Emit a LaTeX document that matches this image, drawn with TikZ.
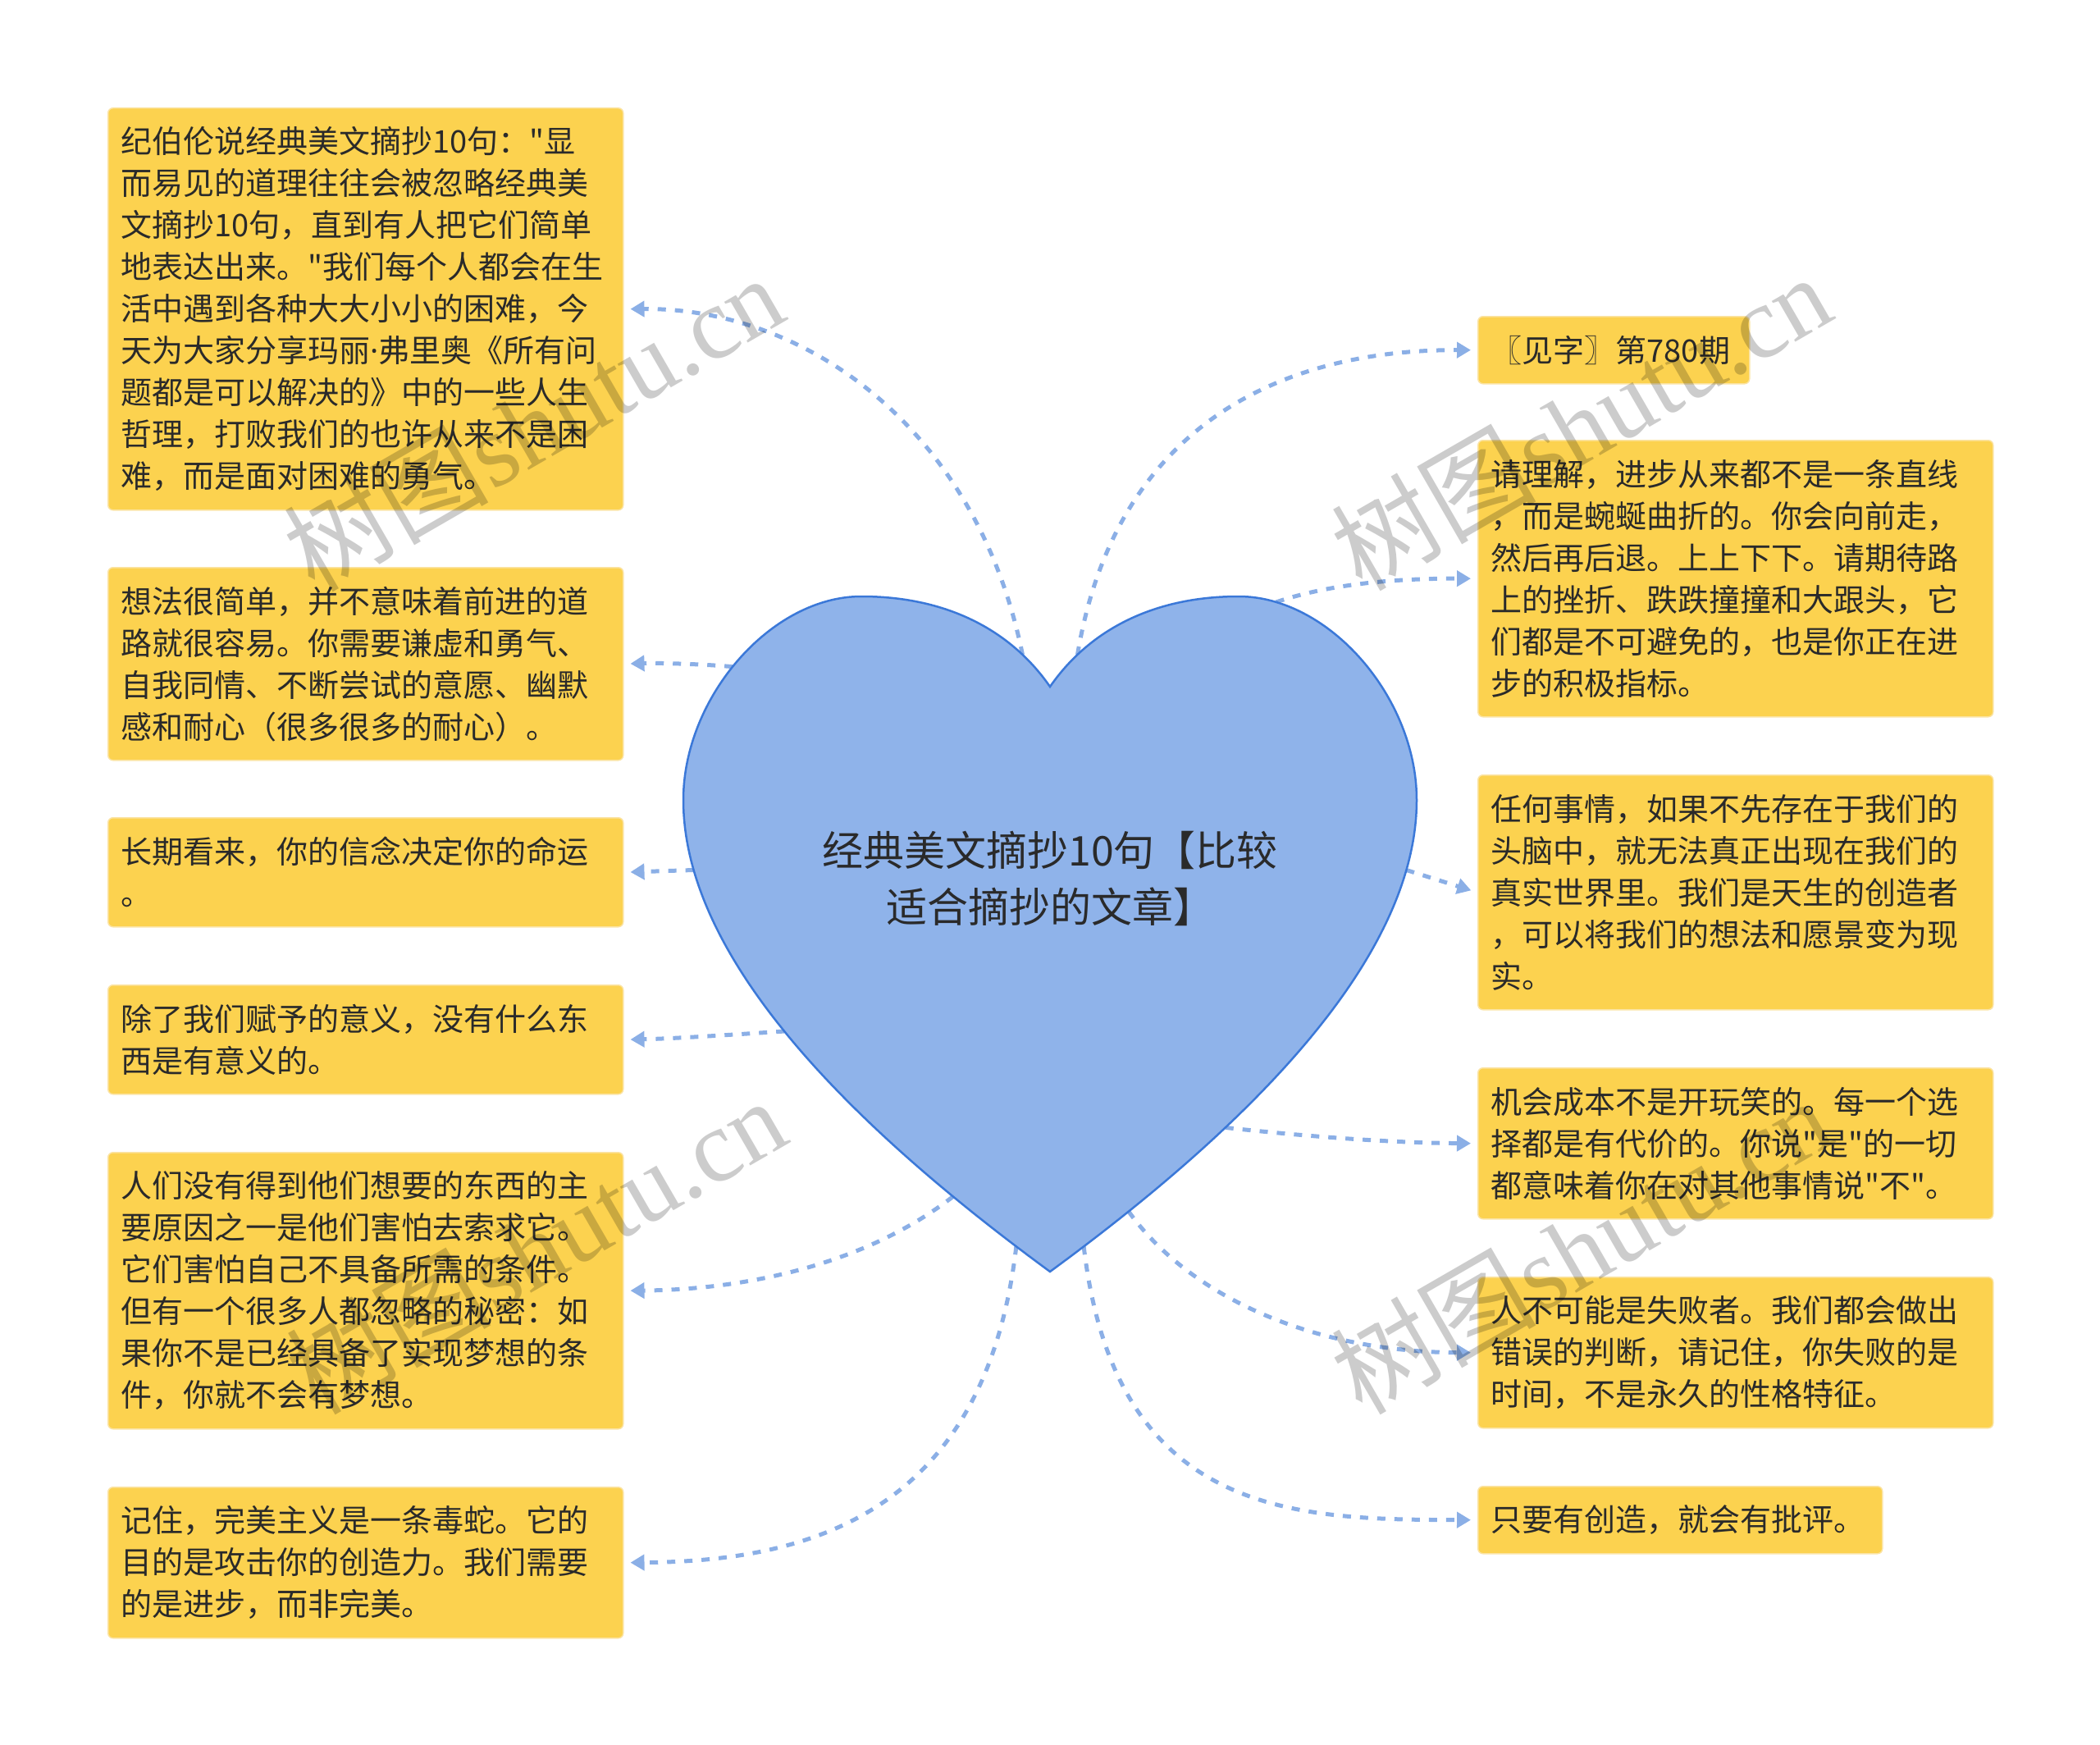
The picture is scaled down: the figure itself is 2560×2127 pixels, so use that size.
\documentclass[tikz,border=0pt]{standalone}
\usepackage{fontspec}
\newfontfamily\cjkfont{Noto Sans CJK SC}
\newfontfamily\latinfont{Noto Sans}
\newfontfamily\wmserif{Liberation Serif}
\usetikzlibrary{arrows.meta}
\definecolor{boxfill}{HTML}{FCD24F}
\definecolor{boxrim}{HTML}{FBE3A2}
\definecolor{heartfill}{HTML}{8FB3EA}
\definecolor{heartline}{HTML}{3B78D8}
\definecolor{linkcol}{HTML}{8BAFE6}
\definecolor{txt}{HTML}{2A2A2A}
\pgfdeclarelayer{bg}
\pgfsetlayers{bg,main}
\tikzset{
  box/.style={rectangle, rounded corners=6pt, fill=boxfill, draw=boxrim, line width=1.5pt,
    inner xsep=16pt, inner ysep=0pt, align=left, text=txt,
    font=\cjkfont\fontsize{38}{51}\selectfont, anchor=north west},
  wide/.style={text width=596pt},
  link/.style={draw=linkcol, line width=5pt, dash pattern=on 10pt off 11pt,
    -{Triangle[length=17pt,width=19pt]}, shorten >=8pt},
  heartshape/.style={fill=heartfill, draw=heartline, line width=2.5pt},
  title/.style={font=\cjkfont\fontsize{50}{69}\selectfont, align=center, text=txt},
  wm/.style={text=black, text opacity=0.2, rotate=30, font=\cjkfont\fontsize{125}{125}\selectfont}
}
\begin{document}
\begin{tikzpicture}[x=1pt,y=-1pt]
\useasboundingbox (0,0) rectangle (2560,2127);

% heart with attachment points
\path[heartshape] (1280,837)
  .. controls (1230,765) and (1150,727) .. (1050,727) coordinate[pos=0.2] (hL1)
  .. controls (940,727) and (833,850) .. (833,975) coordinate[pos=0.53] (hL2)
  .. controls (833,1150) and (1000,1345) .. (1280,1550)
     coordinate[pos=0.16] (hL3) coordinate[pos=0.51] (hL4)
     coordinate[pos=0.85] (hL5) coordinate[pos=0.95] (hL6)
  .. controls (1560,1345) and (1727,1150) .. (1727,975)
     coordinate[pos=0.05] (hR6) coordinate[pos=0.12] (hR5)
     coordinate[pos=0.29] (hR4) coordinate[pos=0.84] (hR3)
  .. controls (1727,850) and (1620,727) .. (1510,727) coordinate[pos=0.86] (hR2)
  .. controls (1410,727) and (1330,765) .. (1280,837) coordinate[pos=0.8] (hR1)
  -- cycle;

\node[title] (root) at (1280,1071) {经典美文摘抄10句【比较\\适合摘抄的文章】};

% left boxes
\node[box, wide, minimum height=490pt] (L1) at (131,131) {纪伯伦说经典美文摘抄10句："显\\而易见的道理往往会被忽略经典美\\文摘抄10句，直到有人把它们简单\\地表达出来。"我们每个人都会在生\\活中遇到各种大大小小的困难，今\\天为大家分享玛丽{\latinfont ·}弗里奥《所有问\\题都是可以解决的》中的一些人生\\哲理，打败我们的也许从来不是困\\难，而是面对困难的勇气。};
\node[box, wide, minimum height=235pt] (L2) at (131,691) {想法很简单，并不意味着前进的道\\路就很容易。你需要谦虚和勇气、\\自我同情、不断尝试的意愿、幽默\\感和耐心（很多很多的耐心）。};
\node[box, wide, minimum height=133pt] (L3) at (131,996) {长期看来，你的信念决定你的命运\\。};
\node[box, wide, minimum height=133pt] (L4) at (131,1200) {除了我们赋予的意义，没有什么东\\西是有意义的。};
\node[box, wide, minimum height=337pt] (L5) at (131,1404) {人们没有得到他们想要的东西的主\\要原因之一是他们害怕去索求它。\\它们害怕自己不具备所需的条件。\\但有一个很多人都忽略的秘密：如\\果你不是已经具备了实现梦想的条\\件，你就不会有梦想。};
\node[box, wide, minimum height=184pt] (L6) at (131,1812) {记住，完美主义是一条毒蛇。它的\\目的是攻击你的创造力。我们需要\\的是进步，而非完美。};

% right boxes
\node[box, text width=299pt, minimum height=82pt] (R1) at (1801,385) {〖见字〗第780期};
\node[box, wide, minimum height=337pt] (R2) at (1801,536) {请理解，进步从来都不是一条直线\\，而是蜿蜒曲折的。你会向前走，\\然后再后退。上上下下。请期待路\\上的挫折、跌跌撞撞和大跟头，它\\们都是不可避免的，也是你正在进\\步的积极指标。};
\node[box, wide, minimum height=286pt] (R3) at (1801,944) {任何事情，如果不先存在于我们的\\头脑中，就无法真正出现在我们的\\真实世界里。我们是天生的创造者\\，可以将我们的想法和愿景变为现\\实。};
\node[box, wide, minimum height=184pt] (R4) at (1801,1301) {机会成本不是开玩笑的。每一个选\\择都是有代价的。你说"是"的一切\\都意味着你在对其他事情说"不"。};
\node[box, wide, minimum height=184pt] (R5) at (1801,1556) {人不可能是失败者。我们都会做出\\错误的判断，请记住，你失败的是\\时间，不是永久的性格特征。};
\node[box, text width=461pt, minimum height=82pt] (R6) at (1801,1811) {只要有创造，就会有批评。};

% connectors behind the heart
\begin{pgfonlayer}{bg}
\draw[link] (hL1) .. controls (1190,520) and (980,375) .. (L1.east);
\draw[link] (hL2) .. controls (850,809) and (800,808) .. (L2.east);
\draw[link] (hL3) -- (L3.east);
\draw[link] (hL4) .. controls (880,1262) and (820,1266) .. (L4.east);
\draw[link] (hL5) .. controls (1050,1545) and (900,1572) .. (L5.east);
\draw[link] (hL6) .. controls (1200,1850) and (980,1903) .. (L6.east);
\draw[link] (hR1) .. controls (1360,520) and (1560,426) .. (R1.west);
\draw[link] (hR2) .. controls (1620,712) and (1700,705) .. (R2.west);
\draw[link] (hR3) -- (R3.west);
\draw[link] (hR4) .. controls (1600,1386) and (1700,1393) .. (R4.west);
\draw[link] (hR5) .. controls (1450,1580) and (1600,1648) .. (R5.west);
\draw[link] (hR6) .. controls (1360,1850) and (1580,1852) .. (R6.west);
\end{pgfonlayer}

% watermarks
\node[wm] (wm1) at (650,515) {树图{\wmserif shutu.cn}};
\node[wm] (wm2) at (653,1518) {树图{\wmserif shutu.cn}};
\node[wm] (wm3) at (1927,514) {树图{\wmserif shutu.cn}};
\node[wm] (wm4) at (1927,1518) {树图{\wmserif shutu.cn}};
\end{tikzpicture}
\end{document}
